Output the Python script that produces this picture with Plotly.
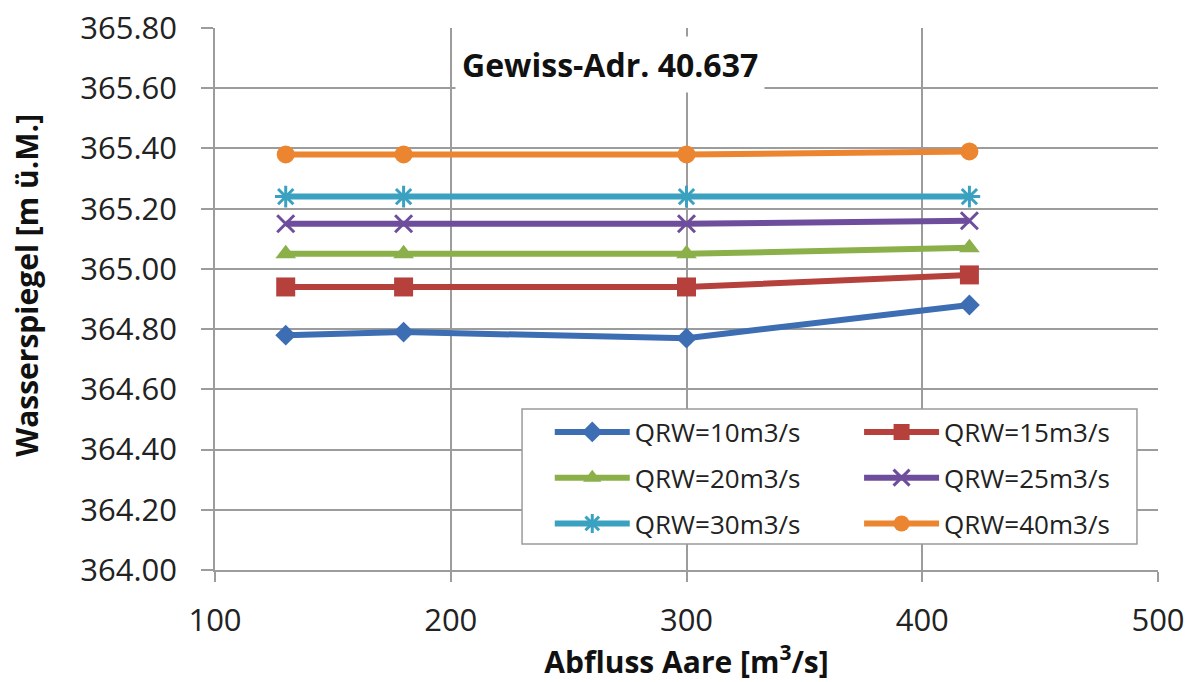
import plotly.graph_objects as go

# Discharge of the Aare [m3/s]
abfluss = [130, 180, 300, 420]

# Water level [m a.s.l.] per QRW series
qrw_10 = [364.78, 364.79, 364.77, 364.88]
qrw_15 = [364.94, 364.94, 364.94, 364.98]
qrw_20 = [365.05, 365.05, 365.05, 365.07]
qrw_25 = [365.15, 365.15, 365.15, 365.16]
qrw_30 = [365.24, 365.24, 365.24, 365.24]
qrw_40 = [365.38, 365.38, 365.38, 365.39]

series_names = ["QRW=10m3/s", "QRW=15m3/s", "QRW=20m3/s",
                "QRW=25m3/s", "QRW=30m3/s", "QRW=40m3/s"]

x_ticks = [100, 200, 300, 400, 500]
y_ticks = [364.0, 364.2, 364.4, 364.6, 364.8, 365.0, 365.2, 365.4, 365.6, 365.8]

styles = [
    # colour, symbol, size, marker line width, legend
    ("#3D6DB3", "diamond", 16, 0, "legend"),
    ("#B5403C", "square", 19, 0, "legend2"),
    ("#8BB04A", "triangle-up", 18, 0, "legend"),
    ("#6E4E9C", "x-thin-open", 17, 3, "legend2"),
    ("#3AA2C0", "asterisk-open", 18, 3, "legend"),
    ("#EC8530", "circle", 18, 0, "legend2"),
]

values = [qrw_10, qrw_15, qrw_20, qrw_25, qrw_30, qrw_40]

fig = go.Figure()
for name, yv, (col, sym, size, mlw, leg) in zip(series_names, values, styles):
    marker = dict(symbol=sym, size=size, color=col)
    if mlw:
        marker["line"] = dict(color=col, width=mlw)
    fig.add_trace(go.Scatter(
        x=abfluss, y=yv, name=name, mode="lines+markers",
        line=dict(color=col, width=6), marker=marker,
        legend=leg, legendgroup=name,
    ))

grid = "#9c9c9c"
tick_font = dict(family="Open Sans", size=31, color="#222222")
title_font = dict(family="Open Sans", size=30, color="#111111")
legend_font = dict(family="Open Sans", size=26, color="#222222")

fig.update_layout(
    width=1189, height=682,
    margin=dict(l=215, r=31, t=28, b=112),
    paper_bgcolor="white", plot_bgcolor="white",
    xaxis=dict(
        range=[100, 500], tickvals=x_ticks, ticktext=[str(v) for v in x_ticks],
        showgrid=True, gridcolor=grid, gridwidth=1.5,
        showline=True, linecolor=grid, linewidth=1.5,
        ticks="outside", ticklen=10, tickwidth=1.5, tickcolor=grid,
        tickfont=tick_font, ticklabelstandoff=12, zeroline=False, automargin=False,
        title=dict(text="<b>Abfluss Aare [m<sup>3</sup>/s]</b>", font=title_font, standoff=5),
    ),
    yaxis=dict(
        range=[364.0, 365.8], tickvals=y_ticks, ticktext=[f"{v:.2f}" for v in y_ticks],
        showgrid=True, gridcolor=grid, gridwidth=1.5,
        showline=True, linecolor=grid, linewidth=1.5,
        ticks="outside", ticklen=12, tickwidth=1.5, tickcolor=grid,
        tickfont=tick_font, ticklabelstandoff=18, zeroline=False, automargin=False,
    ),
    legend=dict(
        x=0.355, y=0.298, xanchor="left", yanchor="top",
        bgcolor="rgba(0,0,0,0)", borderwidth=0, font=legend_font,
        itemwidth=75, tracegroupgap=9,
    ),
    legend2=dict(
        x=0.683, y=0.298, xanchor="left", yanchor="top",
        bgcolor="rgba(0,0,0,0)", borderwidth=0, font=legend_font,
        itemwidth=75, tracegroupgap=9,
    ),
    shapes=[dict(
        type="rect", xref="paper", yref="paper",
        x0=0.3256, x1=0.9777, y0=0.048, y1=0.297,
        line=dict(color="#9a9a9a", width=1.5), fillcolor="white", layer="above",
    )],
    annotations=[
        dict(
            text="<b>Gewiss-Adr. 40.637</b>", xref="paper", yref="paper",
            x=0.419, y=0.932, xanchor="center", yanchor="middle", showarrow=False,
            font=dict(family="Open Sans", size=32, color="#111111"),
            bgcolor="white", borderpad=6,
        ),
        dict(
            text="<b>Wasserspiegel [m ü.M.]</b>", xref="paper", yref="paper",
            x=-0.2, y=0.525, xanchor="center", yanchor="middle", showarrow=False,
            textangle=-90, font=title_font,
        ),
    ],
)

fig.write_html("out.html")
